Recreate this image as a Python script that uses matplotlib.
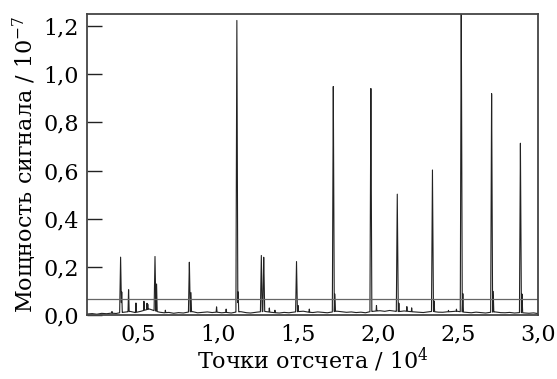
import numpy as np
import matplotlib
matplotlib.use("Agg")
import matplotlib.pyplot as plt

plt.rcParams['font.family'] = ['DejaVu Serif']
plt.rcParams['mathtext.fontset'] = 'custom'
plt.rcParams['mathtext.rm'] = 'DejaVu Serif'
plt.rcParams['mathtext.it'] = 'DejaVu Serif:italic'

# Main peaks (x in 10^4 samples, y in 10^-7)
peak_x = [0.39, 0.605, 0.82, 1.117, 1.27, 1.285, 1.49, 1.72, 1.955, 2.12, 2.34, 2.52, 2.71, 2.89]
peak_y = [0.245, 0.25, 0.224, 1.236, 0.25, 0.245, 0.224, 0.963, 0.95, 0.506, 0.606, 1.32, 0.942, 0.714]

# Shoulders / minor spikes
minor_x = [0.336, 0.397, 0.44, 0.486, 0.536, 0.555, 0.56, 0.615, 0.67, 0.83, 0.99, 1.05, 1.125,
           1.32, 1.355, 1.50, 1.57, 1.73, 1.99, 2.13, 2.18, 2.21, 2.35, 2.44, 2.49, 2.53, 2.72, 2.90]
minor_y = [0.015, 0.10, 0.11, 0.05, 0.058, 0.05, 0.045, 0.13, 0.02, 0.095, 0.035, 0.025, 0.10,
           0.03, 0.02, 0.04, 0.025, 0.09, 0.04, 0.05, 0.035, 0.03, 0.06, 0.02, 0.025, 0.09, 0.10, 0.09]

# Baseline noise level
base_x = [0.18, 0.21, 0.24, 0.27, 0.30, 0.33, 0.36, 0.39, 0.42, 0.45, 0.48, 0.51, 0.54, 0.57, 0.60,
          0.63, 0.66, 0.69, 0.72, 0.75, 0.78, 0.81, 0.84, 0.87, 0.90, 0.93, 0.96, 0.99, 1.02, 1.05,
          1.08, 1.11, 1.14, 1.17, 1.20, 1.23, 1.26, 1.29, 1.32, 1.35, 1.38, 1.41, 1.44, 1.47, 1.50,
          1.53, 1.56, 1.59, 1.62, 1.65, 1.68, 1.71, 1.74, 1.77, 1.80, 1.83, 1.86, 1.89, 1.92, 1.95,
          1.98, 2.01, 2.04, 2.07, 2.10, 2.13, 2.16, 2.19, 2.22, 2.25, 2.28, 2.31, 2.34, 2.37, 2.40,
          2.43, 2.46, 2.49, 2.52, 2.55, 2.58, 2.61, 2.64, 2.67, 2.70, 2.73, 2.76, 2.79, 2.82, 2.85,
          2.88, 2.91, 2.94, 2.97, 3.00]
base_y = [0.004, 0.006, 0.003, 0.007, 0.005, 0.008, 0.006, 0.010, 0.012, 0.015, 0.010, 0.014, 0.020, 0.025, 0.018,
          0.012, 0.009, 0.011, 0.007, 0.010, 0.008, 0.012, 0.014, 0.009, 0.011, 0.013, 0.010, 0.012, 0.009, 0.011,
          0.008, 0.012, 0.014, 0.010, 0.008, 0.011, 0.013, 0.015, 0.012, 0.010, 0.008, 0.011, 0.009, 0.012, 0.014,
          0.016, 0.012, 0.010, 0.013, 0.011, 0.009, 0.012, 0.016, 0.014, 0.011, 0.013, 0.010, 0.012, 0.009, 0.014,
          0.016, 0.018, 0.015, 0.019, 0.016, 0.014, 0.017, 0.015, 0.013, 0.012, 0.010, 0.013, 0.015, 0.012, 0.011,
          0.013, 0.014, 0.016, 0.013, 0.011, 0.009, 0.012, 0.010, 0.008, 0.011, 0.013, 0.010, 0.009, 0.011, 0.008,
          0.010, 0.009, 0.007, 0.009, 0.006]

threshold = 0.066

x_ticks = [0.5, 1.0, 1.5, 2.0, 2.5, 3.0]
x_tick_labels = ["0,5", "1,0", "1,5", "2,0", "2,5", "3,0"]
y_ticks = [0.0, 0.2, 0.4, 0.6, 0.8, 1.0, 1.2]
y_tick_labels = ["0,0", "0,2", "0,4", "0,6", "0,8", "1,0", "1,2"]

# Build signal trace
xs = np.linspace(0.18, 3.0, 8000)
sig = np.interp(xs, base_x, base_y)
w_main = 0.006
for px, py in zip(peak_x, peak_y):
    sig = np.maximum(sig, py * np.clip(1 - np.abs(xs - px) / w_main, 0, None))
w_minor = 0.004
for px, py in zip(minor_x, minor_y):
    sig = np.maximum(sig, py * np.clip(1 - np.abs(xs - px) / w_minor, 0, None))

fig = plt.figure(figsize=(5.57, 3.79), dpi=100)
ax = fig.add_axes([87/557, 1-315/379, (538-87)/557, (315-14)/379])

ax.plot(xs, sig, color='#222222', lw=0.8)
ax.axhline(threshold, color='#666666', lw=0.9)

ax.set_xlim(0.18, 3.0)
ax.set_ylim(0, 1.25)
ax.set_xticks(x_ticks)
ax.set_xticklabels(x_tick_labels)
ax.set_yticks(y_ticks)
ax.set_yticklabels(y_tick_labels)
ax.tick_params(axis='x', length=0, pad=6, labelsize=16)
ax.tick_params(axis='y', direction='in', length=11, width=1.0, pad=6, labelsize=16, color='#222222')

for s in ax.spines.values():
    s.set_color('#444444')
    s.set_linewidth(1.3)

ax.set_xlabel("Точки отсчета / $10^{4}$", fontsize=16, labelpad=0)
ax.set_ylabel("Мощность сигнала / $10^{-7}$", fontsize=16, labelpad=3)

fig.savefig("out.png", dpi=100)
